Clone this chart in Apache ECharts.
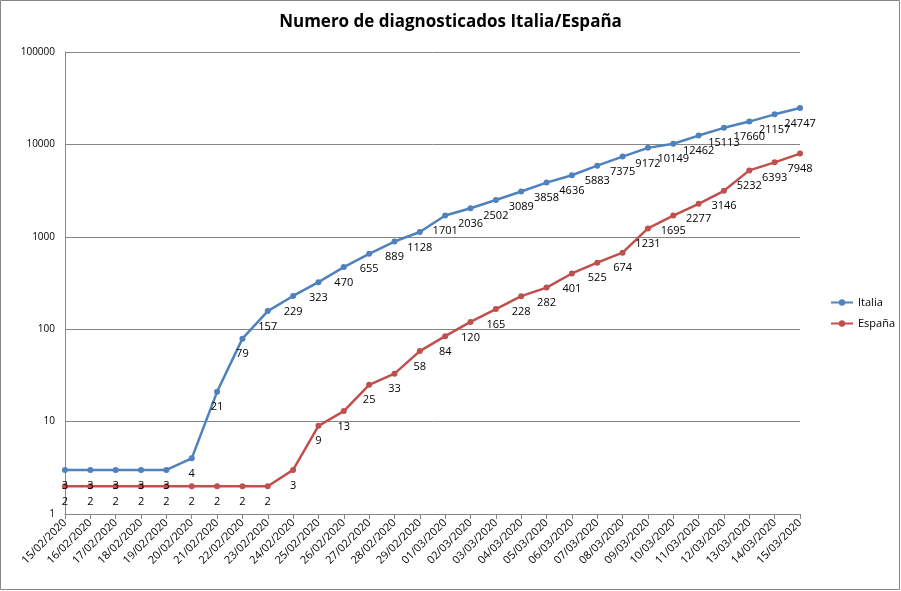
<!DOCTYPE html>
<html><head><meta charset="utf-8">
<script src="https://cdn.jsdelivr.net/npm/echarts@6/dist/echarts.min.js"></script>
<style>html,body{margin:0;padding:0;background:#fff}#c{width:901px;height:591px}</style>
</head><body><div id="c"></div>
<script>
const categories = ["15/02/2020","16/02/2020","17/02/2020","18/02/2020","19/02/2020","20/02/2020","21/02/2020","22/02/2020","23/02/2020","24/02/2020","25/02/2020","26/02/2020","27/02/2020","28/02/2020","29/02/2020","01/03/2020","02/03/2020","03/03/2020","04/03/2020","05/03/2020","06/03/2020","07/03/2020","08/03/2020","09/03/2020","10/03/2020","11/03/2020","12/03/2020","13/03/2020","14/03/2020","15/03/2020"];
const italia = [3,3,3,3,3,4,21,79,157,229,323,470,655,889,1128,1701,2036,2502,3089,3858,4636,5883,7375,9172,10149,12462,15113,17660,21157,24747];
const espana = [2,2,2,2,2,2,2,2,2,3,9,13,25,33,58,84,120,165,228,282,401,525,674,1231,1695,2277,3146,5232,6393,7948];
const yTicks = [1,10,100,1000,10000,100000];

const FONT = "'Open Sans', 'Liberation Sans', sans-serif";
const chart = echarts.init(document.getElementById('c'), null, {renderer:'canvas'});
function mkSeries(name, data, color){
  return {
    name, type:'line', data,
    symbol:'circle', symbolSize:6,
    lineStyle:{width:2.5,color}, itemStyle:{color},
    label:{show:true, position:'bottom', distance:7, color:'#000', fontSize:11, fontFamily:FONT},
    animation:false
  };
}
chart.setOption({
  animation:false,
  title:{text:'Numero de diagnosticados Italia/España', left:'center', top:9,
    textStyle:{fontFamily:FONT, fontSize:17, fontWeight:'bold', color:'#000'}},
  graphic:[{type:'rect', shape:{x:0.5,y:0.5,width:899,height:589}, style:{fill:'none', stroke:'#868686', lineWidth:1}, silent:true}],
  legend:{orient:'vertical', left:825, top:292, itemGap:10, itemWidth:22, itemHeight:8,
    textStyle:{fontFamily:FONT, fontSize:11, color:'#000'},
    data:[{name:'Italia'},{name:'España'}]},
  grid:{left:65, right:101, top:52, bottom:77, containLabel:false},
  xAxis:{type:'category', data:categories, boundaryGap:false,
    axisLine:{lineStyle:{color:'#868686'}},
    axisTick:{show:true, alignWithLabel:true, length:5, lineStyle:{color:'#868686'}},
    axisLabel:{rotate:45, interval:0, fontFamily:FONT, fontSize:11, color:'#000', margin:7}},
  yAxis:{type:'log', logBase:10, min:yTicks[0], max:yTicks[yTicks.length-1],
    axisLine:{show:true, lineStyle:{color:'#868686'}},
    axisTick:{show:false},
    splitLine:{show:true, lineStyle:{color:'#868686'}},
    axisLabel:{fontFamily:FONT, fontSize:10, color:'#000', margin:10, formatter:v=>String(Math.round(v))}},
  series:[mkSeries('Italia', italia, '#4F81BD'), mkSeries('España', espana, '#C0504D')]
});
</script></body></html>
